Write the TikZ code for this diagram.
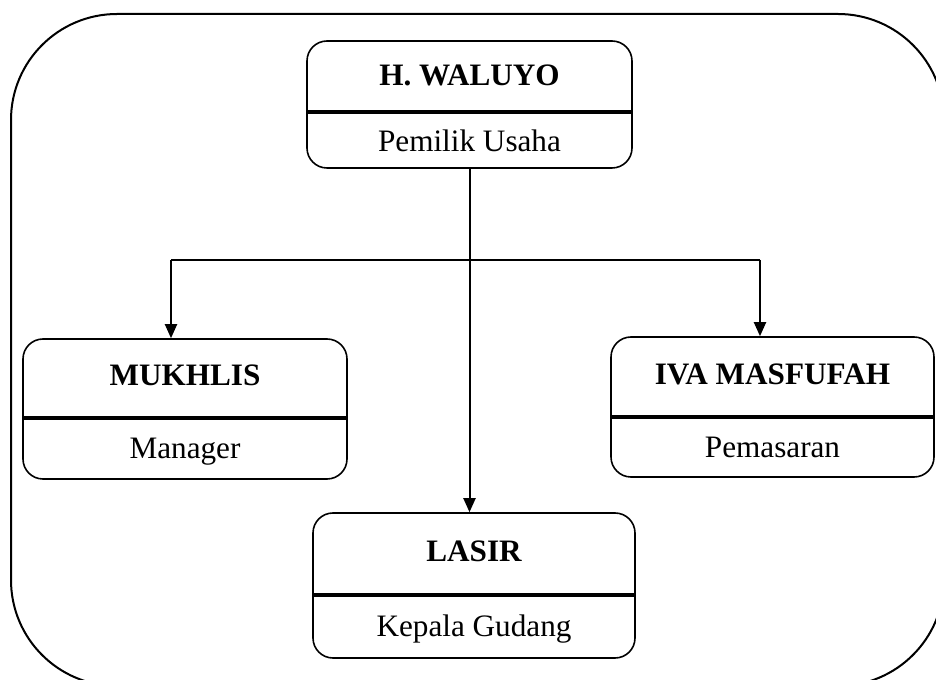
\documentclass[tikz,border=0pt]{standalone}
\usepackage{fontspec}
\setmainfont{Liberation Serif}
\usepackage{tikz}
\usetikzlibrary{arrows.meta}

\begin{document}
\begin{tikzpicture}[x=0.75pt,y=-0.75pt,
	kotak/.style={draw,line width=1.2pt,rounded corners=15pt,inner sep=0pt},
	nama/.style={anchor=base,font=\fontsize{23.4pt}{28pt}\selectfont\bfseries},
	jabatan/.style={anchor=base,font=\fontsize{23.4pt}{28pt}\selectfont},
	sekat/.style={line width=3pt},
	garis/.style={line width=1.5pt},
	panah/.style={garis,-{Triangle[length=10.5pt,width=9pt]}}]
	\useasboundingbox (0,0) rectangle (936,680);
	% bingkai luar
	\draw[line width=1.5pt,rounded corners=79.5pt] (11,14) rectangle (944,686);
	% kotak-kotak
	\node[kotak,minimum width=243.75pt,minimum height=95.25pt] (waluyo) at (469.5,104.5) {};
	\node[kotak,minimum width=243pt,minimum height=105pt] (mukhlis) at (185,409) {};
	\node[kotak,minimum width=242.25pt,minimum height=105pt] (iva) at (772.5,407) {};
	\node[kotak,minimum width=241.5pt,minimum height=108.75pt] (lasir) at (474,585.5) {};
	\draw[sekat] (waluyo.west |- 0,112) -- (waluyo.east |- 0,112);
	\draw[sekat] (mukhlis.west |- 0,418) -- (mukhlis.east |- 0,418);
	\draw[sekat] (iva.west |- 0,417) -- (iva.east |- 0,417);
	\draw[sekat] (lasir.west |- 0,595) -- (lasir.east |- 0,595);
	% teks
	\node[nama] (waluyo-n) at (469.5,86) {H. WALUYO};
	\node[jabatan] (waluyo-j) at (469.5,152) {Pemilik Usaha};
	\node[nama] (mukhlis-n) at (185,386) {MUKHLIS};
	\node[jabatan] (mukhlis-j) at (185,459) {Manager};
	\node[nama] (iva-n) at (772.5,385) {IVA MASFUFAH};
	\node[jabatan] (iva-j) at (772.5,458) {Pemasaran};
	\node[nama] (lasir-n) at (474,562) {LASIR};
	\node[jabatan] (lasir-j) at (474,637) {Kepala Gudang};
	% garis penghubung
	\coordinate (kiri) at (171,260);
	\coordinate (kanan) at (760,260);
	\draw[garis] (kiri) -- (kanan);
	\draw[panah] (waluyo.south) -- (waluyo.south |- lasir.north);
	\draw[panah] (kiri) -- (kiri |- mukhlis.north);
	\draw[panah] (kanan) -- (kanan |- iva.north);
\end{tikzpicture}
\end{document}
